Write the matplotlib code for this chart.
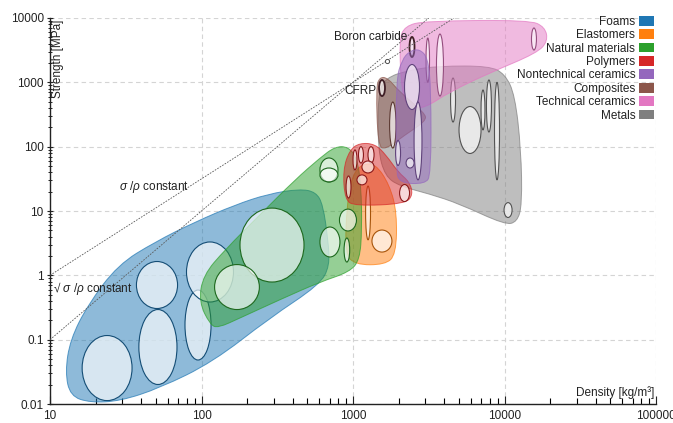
import numpy as np
import matplotlib.pyplot as plt
from matplotlib.colors import to_rgba
from matplotlib.patches import Ellipse, PathPatch, Patch
from matplotlib.path import Path

plt.rcParams["font.family"] = ["Liberation Sans", "DejaVu Sans"]
plt.rcParams["mathtext.fontset"] = "custom"
plt.rcParams["mathtext.it"] = "Liberation Sans:italic"
plt.rcParams["mathtext.rm"] = "Liberation Sans"

## Data (density in kg/m3, strength in MPa)

families = [
    "Foams", "Elastomers", "Natural materials", "Polymers",
    "Nontechnical ceramics", "Composites", "Technical ceramics", "Metals",
]
family_colors = [
    "#1f77b4", "#ff7f0e", "#2ca02c", "#d62728",
    "#9467bd", "#8c564b", "#e377c2", "#7f7f7f",
]

# family envelopes (outline points)
foams_env_rho = [18.4, 13.6, 12.6, 13.6, 17.8, 28.1, 49.3, 90.6, 166, 275,
                 445, 570, 634, 684, 702, 603, 282, 119, 53.1, 29]
foams_env_sigma = [0.0105, 0.0133, 0.0314, 0.1, 0.35, 1.46, 3.30, 6.75, 12.4, 18.4,
                   22.0, 19.7, 12.4, 3.57, 1.40, 0.715, 0.217, 0.045, 0.0177, 0.0111]
elast_env_rho = [913, 970, 1107, 1397, 1744, 1950, 1923, 1626, 1030, 885]
elast_env_sigma = [12.4, 30.5, 52.1, 55.7, 25.5, 9.31, 2.09, 1.46, 1.46, 2.22]
natural_env_rho = [114, 96.2, 102.4, 143, 243, 414, 605, 761, 927, 1062,
                   1130, 1145, 1107, 951, 605, 329, 179.5, 128.5]
natural_env_sigma = [0.171, 0.385, 1.0, 2.5, 8.74, 30.5, 66.7, 100, 100, 66.7,
                     25.5, 5.11, 1.75, 1.13, 0.787, 0.418, 0.217, 0.152]
polymer_env_rho = [885, 859, 951, 1107, 1397, 1652, 1982, 2362, 2490, 2203, 1030]
polymer_env_sigma = [14.9, 43.6, 89, 114, 110, 74.5, 40.4, 28.3, 17.8, 12.9, 12.0]
nontech_env_rho = [2030, 1923, 1923, 2104, 2362, 2750, 3126, 3273, 3273, 2985]
nontech_env_sigma = [27.2, 43.6, 1088, 2225, 3070, 3300, 2389, 761, 36.4, 26.3]
compos_env_rho = [1462, 1420, 1499, 1702, 2030, 2985, 3034, 2203, 1626]
compos_env_sigma = [106, 816, 1211, 1166, 708, 333, 251, 152, 89]
techcer_env_rho = [2104, 2014, 2203, 2985, 14580, 18490, 19350, 16400, 7950, 4334, 2985, 2362]
techcer_env_sigma = [636, 4550, 7510, 8980, 9310, 7250, 4390, 2855, 1395, 708, 399, 399]
metals_env_rho = [2030, 1626, 1462, 1462, 1626, 2362, 3724, 7950, 10070, 11720,
                  12860, 13060, 12100, 10070, 5044, 3200]
metals_env_sigma = [24.4, 35.0, 89, 636, 1166, 1556, 1795, 1795, 1346, 636,
                    89, 12.4, 6.75, 6.11, 12.9, 18.4]

# single materials: (low, high) ranges
foams_rho = [(16.3, 34.8), (38.6, 68.9), (37.2, 69.5), (77.8, 115.6), (79.6, 162.6)]
foams_sigma = [(0.0113, 0.116), (0.0201, 0.294), (0.305, 1.64), (0.0483, 0.591), (0.385, 3.30)]
elast_rho = [(1334, 1807), (1211, 1305)]
elast_sigma = [(2.30, 5.06), (3.57, 24.4)]
natural_rho = [(179.5, 475), (122, 241), (605, 796), (605, 796), (814, 1054), (605, 820), (873, 951)]
natural_sigma = [(0.787, 11.1), (0.294, 1.47), (28.3, 66.7), (28.3, 46.6), (4.89, 10.7), (1.93, 5.64), (1.61, 3.80)]
polymer_rho = [(1087, 1172), (1256, 1377), (1145, 1377), (1062, 1237), (900, 970), (2030, 2362), (1000, 1062)]
polymer_sigma = [(55.7, 100), (55.7, 100), (39.0, 59.9), (25.5, 36.4), (15.9, 35.0), (14.0, 25.8), (43.6, 89)]
nontech_rho = [(2188, 2748), (2530, 2853), (2240, 2530), (1910, 2060)]
nontech_sigma = [(378, 1894), (30.5, 494), (46.6, 66.7), (51.0, 124.7)]
compos_rho = [(1486, 1626), (1744, 1923)]
compos_sigma = [(612, 1088), (95.3, 494)]
techcer_rho = [(2360, 2547), (3034, 3200), (3556, 3955), (15070, 16250)]
techcer_sigma = [(2476, 5070), (1000, 4887), (612, 5633), (3180, 6995)]
metals_rho = [(4405, 4750), (5010, 7000), (7000, 7430), (7600, 8200), (8590, 9270), (9930, 11220)]
metals_sigma = [(241.6, 1166), (78.4, 420.6), (182, 761), (169, 1088), (30.5, 1000), (7.93, 13.5)]

# guide lines (end points)
guide1_rho = [10, 4642]
guide1_sigma = [1, 10000]
guide2_rho = [10, 3162]
guide2_sigma = [0.1, 10000]
guide_point_rho = [1675]
guide_point_sigma = [2168]

x_ticks = [10, 100, 1000, 10000, 100000]
y_ticks = [0.01, 0.1, 1, 10, 100, 1000, 10000]

envelopes = {
    "Foams": (foams_env_rho, foams_env_sigma, foams_rho, foams_sigma),
    "Elastomers": (elast_env_rho, elast_env_sigma, elast_rho, elast_sigma),
    "Natural materials": (natural_env_rho, natural_env_sigma, natural_rho, natural_sigma),
    "Polymers": (polymer_env_rho, polymer_env_sigma, polymer_rho, polymer_sigma),
    "Nontechnical ceramics": (nontech_env_rho, nontech_env_sigma, nontech_rho, nontech_sigma),
    "Composites": (compos_env_rho, compos_env_sigma, compos_rho, compos_sigma),
    "Technical ceramics": (techcer_env_rho, techcer_env_sigma, techcer_rho, techcer_sigma),
    "Metals": (metals_env_rho, metals_env_sigma, metals_rho, metals_sigma),
}
highlighted = {("Technical ceramics", 0), ("Composites", 0)}
draw_order = ["Metals", "Technical ceramics", "Foams", "Elastomers",
              "Natural materials", "Polymers", "Composites", "Nontechnical ceramics"]


def rounded_path(xs, ys):
    # closed quadratic-bezier outline through the midpoints, in log space
    pts = np.column_stack([np.log10(xs), np.log10(ys)])
    mids = (pts + np.roll(pts, -1, axis=0)) / 2
    verts = [mids[-1]]
    codes = [Path.MOVETO]
    for p, m in zip(pts, mids):
        verts += [p, m]
        codes += [Path.CURVE3, Path.CURVE3]
    verts.append(mids[-1])
    codes.append(Path.CLOSEPOLY)
    return Path(verts, codes)


def darker(color, f=0.6):
    r, g, b, _ = to_rgba(color)
    return (r * f, g * f, b * f, 1)


fig = plt.figure(figsize=(6.73, 4.23), dpi=100)
ax = fig.add_axes((50 / 673, 19 / 423, 606 / 673, 386 / 423))
ax.set_xscale("log")
ax.set_yscale("log")
ax.set_xlim(10, 100000)
ax.set_ylim(0.01, 10000)

# log-space coordinates -> display
scaled = ax.transLimits + ax.transAxes

for name in draw_order:
    color = family_colors[families.index(name)]
    env_x, env_y, rho, sigma = envelopes[name]
    r, g, b, _ = to_rgba(color)
    env = PathPatch(
        rounded_path(env_x, env_y),
        fc=(r, g, b, 0.5),
        ec=(r, g, b, 0.7),
        lw=0.7,
        transform=scaled,
        zorder=2,
    )
    ax.add_patch(env)
    for i, ((x0, x1), (y0, y1)) in enumerate(zip(rho, sigma)):
        hl = (name, i) in highlighted
        lx0, lx1, ly0, ly1 = np.log10([x0, x1, y0, y1])
        e = Ellipse(
            ((lx0 + lx1) / 2, (ly0 + ly1) / 2),
            lx1 - lx0,
            ly1 - ly0,
            fc=(1, 1, 1, 0.65),
            ec=(0.25, 0.12, 0.15, 1) if hl else darker(color, 0.65),
            lw=1.3 if hl else 0.8,
            transform=scaled,
            zorder=2,
        )
        ax.add_patch(e)

# guide lines
guide_style = dict(color="0.35", lw=0.6, ls=(0, (2, 1.5)), zorder=3)
ax.plot(guide1_rho, guide1_sigma, **guide_style)
ax.plot(guide2_rho, guide2_sigma, **guide_style)
ax.plot(guide_point_rho, guide_point_sigma, "o", ms=3, mfc="white", mec="0.3", mew=0.7, zorder=4)

txt = dict(fontsize=8.5, color="#222222", zorder=5)
ax.text(48.5, 23.6, r"$\sigma$ /$\rho$ constant", ha="center", va="center", **txt)
ax.text(10.4, 0.63, "√ $\\sigma$ /$\\rho$ constant", ha="left", va="center", **txt)

bc_rho, bc_sigma = techcer_rho[0], techcer_sigma[0]
ax.annotate("Boron carbide", xy=(bc_rho[0], bc_sigma[1]), xytext=(-1.5, 0),
            textcoords="offset points", ha="right", va="center", **txt)
cf_rho, cf_sigma = compos_rho[0], compos_sigma[0]
ax.annotate("CFRP", xy=(cf_rho[0], np.sqrt(cf_sigma[0] * cf_sigma[1])), xytext=(-1.5, -2),
            textcoords="offset points", ha="right", va="center", **txt)

# axes styling
ax.set_xticks(x_ticks)
ax.set_yticks(y_ticks)
ax.set_xticklabels([f"{v:g}" for v in x_ticks])
ax.set_yticklabels([f"{v:g}" for v in y_ticks])
ax.tick_params(axis="both", labelsize=8.5, colors="#222222")
ax.tick_params(axis="x", which="major", direction="in", length=6, width=0.8, pad=4)
ax.tick_params(axis="x", which="minor", direction="in", length=4, width=0.8)
ax.tick_params(axis="y", which="major", direction="inout", length=5, width=0.8, pad=2)
ax.tick_params(axis="y", which="minor", direction="inout", length=3, width=0.6)
for side in ("top", "right"):
    ax.spines[side].set_visible(False)
for side in ("left", "bottom"):
    ax.spines[side].set_linewidth(1.0)
    ax.spines[side].set_color("#222222")
ax.grid(True, which="major", color="#d4d4d4", ls=(0, (4, 3)), lw=0.8, zorder=0)
ax.set_axisbelow(True)

ax.text(0.013, 0.995, "Strength [MPa]", rotation=90, ha="center", va="top",
        transform=ax.transAxes, fontsize=8.5, color="#222222")
ax.text(0.998, 0.012, "Density [kg/m³]", ha="right", va="bottom",
        transform=ax.transAxes, fontsize=8.5, color="#222222")

handles = [Patch(fc=c, ec="none") for c in family_colors]
leg = ax.legend(
    handles, families, loc="upper right", bbox_to_anchor=(1.0, 1.012),
    frameon=False, markerfirst=False, fontsize=8.5, handlelength=1.2,
    handleheight=0.9, handletextpad=0.35, labelspacing=0.12, borderpad=0.2,
    borderaxespad=0,
)
leg.set_zorder(6)
for t in leg.get_texts():
    t.set_color("#222222")

fig.savefig("out.png", dpi=100)
